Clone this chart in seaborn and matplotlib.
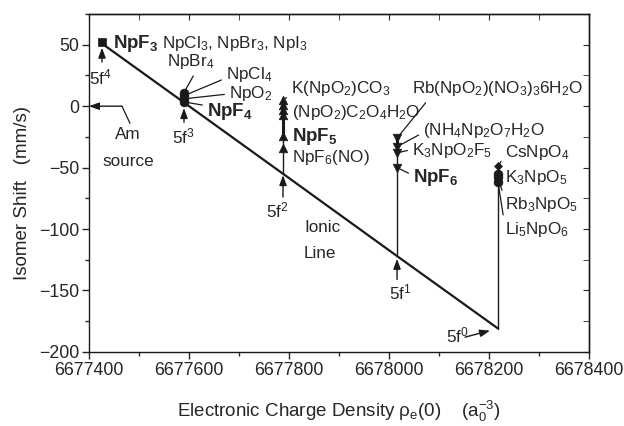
import matplotlib
matplotlib.use("Agg")
import matplotlib.pyplot as plt
import seaborn as sns
import pandas as pd

# -------------------------
# data
# -------------------------
# ionic line: valence states 5f4 .. 5f0
state_labels = ["5f$^4$", "5f$^3$", "5f$^2$", "5f$^1$", "5f$^0$"]
state_x = [6677426, 6677590, 6677788, 6678016, 6678218]
state_y = [51, 3, -55, -122, -181]

# Np(III)
np3_x = [6677426]
np3_y = [52]

# Np(IV)
np4_names = ["NpBr$_4$", "NpCl$_4$", "NpO$_2$", "NpF$_4$"]
np4_x = [6677590, 6677590, 6677590, 6677590]
np4_y = [11, 8.5, 6, 3.5]

# Np(V)
np5_names = ["K(NpO$_2$)CO$_3$", "", "", "(NpO$_2$)C$_2$O$_4$H$_2$O", "NpF$_5$", "NpF$_6$(NO)"]
np5_x = [6677788] * 6
np5_y = [5, 1, -3, -7, -24, -34]

# Np(VI)
np6_names = ["Rb(NpO$_2$)(NO$_3$)$_3$6H$_2$O", "(NH$_4$Np$_2$O$_7$H$_2$O", "K$_3$NpO$_2$F$_5$", "NpF$_6$"]
np6_x = [6678016] * 4
np6_y = [-26, -33, -38, -50]

# Np(VII)
np7_names = ["CsNpO$_4$", "K$_3$NpO$_5$", "Rb$_3$NpO$_5$", "Li$_5$NpO$_6$"]
np7_x = [6678218] * 4
np7_y = [-49, -55, -58, -62]

# -------------------------
# style
# -------------------------
sns.set_style("ticks")
plt.rcParams['font.family'] = ['Liberation Sans', 'DejaVu Sans']
plt.rcParams['mathtext.fontset'] = 'custom'
plt.rcParams['mathtext.rm'] = 'Liberation Sans'
plt.rcParams['mathtext.it'] = 'Liberation Sans:italic'
plt.rcParams['mathtext.bf'] = 'Liberation Sans:bold'
plt.rcParams['axes.linewidth'] = 1.0

fig, ax = plt.subplots(figsize=(6.24, 4.26), dpi=100)
fig.subplots_adjust(left=0.1426, right=0.944, top=0.967, bottom=0.174)

FS = 12.3
BFS = 13.5
col = "#1a1a1a"

# ionic line
ionic = pd.DataFrame({"x": state_x, "y": state_y})
sns.lineplot(data=ionic, x="x", y="y", ax=ax, color=col, lw=1.6, sort=False)

# vertical compound lines
ax.plot([np5_x[0]] * 2, [max(np5_y), np5_y[4]], color=col, lw=2.2)
ax.plot([np5_x[0]] * 2, [np5_y[4], state_y[2]], color=col, lw=1.0)
ax.plot([np6_x[0]] * 2, [max(np6_y), np6_y[2]], color=col, lw=2.2)
ax.plot([np6_x[0]] * 2, [np6_y[2], state_y[3]], color=col, lw=1.0)
ax.plot([np7_x[0]] * 2, [max(np7_y), state_y[4]], color=col, lw=1.0)

# markers
sns.scatterplot(x=np3_x, y=np3_y, marker="s", s=38, color=col, edgecolor=col, ax=ax, zorder=5)
sns.scatterplot(x=np4_x, y=np4_y, marker="o", s=40, color=col, edgecolor=col, ax=ax, zorder=5)
sns.scatterplot(x=np5_x, y=np5_y, marker="^", s=38, color=col, edgecolor=col, ax=ax, zorder=5)
sns.scatterplot(x=np6_x, y=np6_y, marker="v", s=38, color=col, edgecolor=col, ax=ax, zorder=5)
sns.scatterplot(x=np7_x[:1], y=np7_y[:1], marker="D", s=18, color=col, edgecolor=col, ax=ax, zorder=5)
sns.scatterplot(x=np7_x[1:], y=np7_y[1:], marker="o", s=40, color=col, edgecolor=col, ax=ax, zorder=5)

# axes
ax.set_xlim(6677400, 6678400)
ax.set_ylim(-200, 75)
ax.set_xticks(range(6677400, 6678401, 200))
ax.set_xticks(range(6677500, 6678400, 200), minor=True)
ax.set_yticks(range(-200, 51, 50))
ax.set_yticks(range(-175, 76, 50), minor=True)
ax.ticklabel_format(axis='x', style='plain', useOffset=False)
ax.tick_params(which='major', direction='out', length=5, width=1.0, labelsize=12.8, pad=2)
ax.tick_params(which='minor', direction='out', length=3, width=1.0)
for sp in ax.spines.values():
    sp.set_visible(True)
    sp.set_color(col)

top = ax.secondary_xaxis('top')
top.set_xticks(range(6677400, 6678401, 200))
top.set_xticks(range(6677500, 6678400, 200), minor=True)
top.tick_params(which='both', direction='in', length=4, labeltop=False)
right = ax.secondary_yaxis('right')
right.set_yticks(range(-200, 51, 50))
right.set_yticks(range(-175, 76, 50), minor=True)
right.tick_params(which='both', direction='in', length=4, labelright=False)

ax.set_xlabel("Electronic Charge Density ρ$_{\\mathrm{e}}$(0)    (a$_0^{-3}$)", fontsize=13.5)
ax.set_ylabel("Isomer Shift   (mm/s)", fontsize=13.5)
ax.xaxis.set_label_coords(0.5, -0.14)
ax.yaxis.set_label_coords(-0.115, 0.47)

# -------------------------
# annotations
# -------------------------
ahead = dict(arrowstyle='-|>,head_length=0.6,head_width=0.22', color=col, lw=1.0, shrinkA=0)

# valence-state arrows with 5f^n labels
tails = [15, 16, 19, 19]
shr = [3, 4, 1, 2]
for i in range(4):
    ax.annotate("", xy=(state_x[i], state_y[i]), xytext=(state_x[i], state_y[i] - tails[i]),
                arrowprops=dict(ahead, shrinkB=shr[i]))
ax.text(6677422, 23, state_labels[0], fontsize=FS, ha='center', va='center')
ax.text(6677588, -25, state_labels[1], fontsize=FS, ha='center', va='center')
ax.text(6677776, -85, state_labels[2], fontsize=FS, ha='center', va='center')
ax.text(6678022, -152, state_labels[3], fontsize=FS, ha='center', va='center')
ax.annotate("", xy=(state_x[4], state_y[4]), xytext=(6678152, -188),
            arrowprops=dict(ahead, shrinkB=6))
ax.text(6678136, -187, state_labels[4], fontsize=FS, ha='center', va='center')

# Am source
ax.annotate("", xy=(6677400, 0), xytext=(6677466, 0), arrowprops=dict(ahead, shrinkB=0))
ax.plot([6677466, 6677482], [0, -14], color=col, lw=0.9)
ax.text(6677478, -23, "Am", fontsize=FS, ha='center', va='center')
ax.text(6677478, -45, "source", fontsize=FS, ha='center', va='center')

# Ionic line label
ax.text(6677866, -99, "Ionic", fontsize=FS, ha='center', va='center')
ax.text(6677862, -120, "Line", fontsize=FS, ha='center', va='center')

# Np(III)
ax.text(6677448, 51, r"NpF$_\mathbf{3}$", fontsize=BFS, fontweight='bold', ha='left', va='center')
ax.text(6677546, 51, "NpCl$_3$, NpBr$_3$, NpI$_3$", fontsize=FS, ha='left', va='center')

lead = dict(arrowstyle='-', color=col, lw=0.9, shrinkA=1, shrinkB=2)

# Np(IV)
ax.annotate(np4_names[0], xy=(np4_x[0], np4_y[0]), xytext=(6677604, 36), fontsize=FS,
            ha='center', va='center', arrowprops=dict(lead, relpos=(0.6, 0.0)))
ax.annotate(np4_names[1], xy=(np4_x[1], np4_y[1]), xytext=(6677674, 26), fontsize=FS,
            ha='left', va='center', arrowprops=dict(lead, relpos=(0.0, 0.3)))
ax.annotate(np4_names[2], xy=(np4_x[2], np4_y[2]), xytext=(6677680, 10), fontsize=FS,
            ha='left', va='center', arrowprops=dict(lead, relpos=(0.0, 0.5)))
ax.annotate(r"NpF$_\mathbf{4}$", xy=(np4_x[3], np4_y[3]), xytext=(6677636, -4), fontsize=BFS,
            fontweight='bold', ha='left', va='center', arrowprops=dict(lead, relpos=(0.0, 0.75)))

# Np(V)
ax.annotate(np5_names[0], xy=(np5_x[0], np5_y[0]), xytext=(6677804, 14), fontsize=FS,
            ha='left', va='center', arrowprops=dict(lead, relpos=(0.0, 0.2)))
ax.text(6677806, -5, np5_names[3], fontsize=FS, ha='left', va='center')
ax.text(6677806, -25, r"NpF$_\mathbf{5}$", fontsize=BFS, fontweight='bold', ha='left', va='center')
ax.text(6677806, -42, np5_names[5], fontsize=FS, ha='left', va='center')

# Np(VI)
ax.annotate(np6_names[0], xy=(np6_x[0], np6_y[0]), xytext=(6678046, 14), fontsize=FS,
            ha='left', va='center', arrowprops=dict(lead, relpos=(0.1, 0.0)))
ax.annotate(np6_names[1], xy=(np6_x[1], np6_y[1]), xytext=(6678068, -20), fontsize=FS,
            ha='left', va='center', arrowprops=dict(lead, relpos=(0.0, 0.4)))
ax.annotate(np6_names[2], xy=(np6_x[2], np6_y[2]), xytext=(6678046, -36), fontsize=FS,
            ha='left', va='center', arrowprops=dict(lead, relpos=(0.0, 0.55)))
ax.annotate(r"NpF$_\mathbf{6}$", xy=(np6_x[3], np6_y[3]), xytext=(6678048, -58), fontsize=BFS,
            fontweight='bold', ha='left', va='center', arrowprops=dict(lead, relpos=(0.0, 0.6)))

# Np(VII)
ax.annotate(np7_names[0], xy=(np7_x[0], np7_y[0]), xytext=(6678232, -38), fontsize=FS,
            ha='left', va='center', arrowprops=dict(lead, relpos=(0.0, 0.4)))
ax.text(6678232, -58, np7_names[1], fontsize=FS, ha='left', va='center')
ax.annotate(np7_names[2], xy=(np7_x[2], np7_y[2]), xytext=(6678232, -80), fontsize=FS,
            ha='left', va='center', arrowprops=dict(lead, relpos=(0.0, 0.7)))
ax.annotate(np7_names[3], xy=(np7_x[3], np7_y[3]), xytext=(6678232, -100), fontsize=FS,
            ha='left', va='center', arrowprops=dict(lead, relpos=(0.0, 0.6)))

plt.savefig("out.png", dpi=100)
plt.close()
